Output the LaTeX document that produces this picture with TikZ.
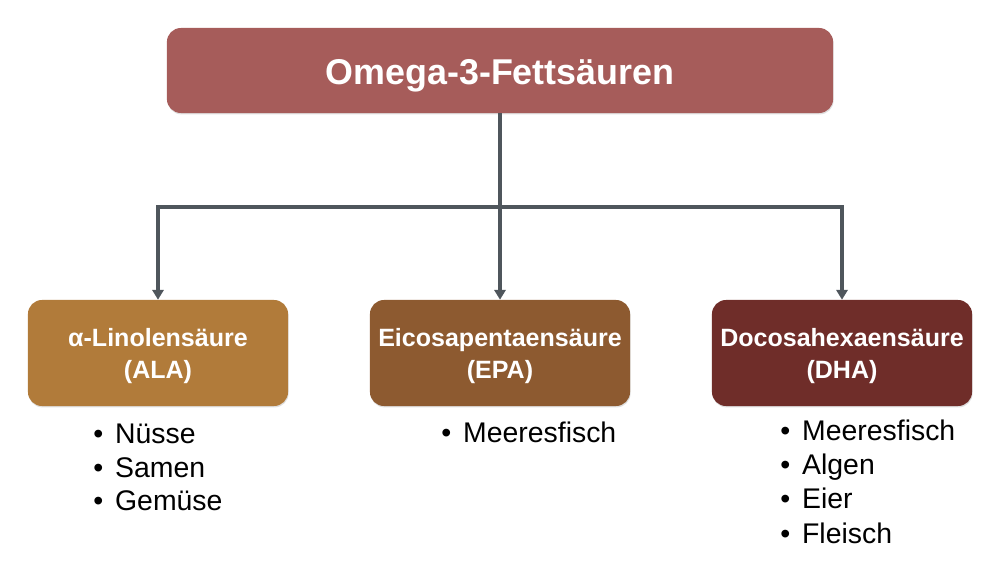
\documentclass[tikz,border=0pt]{standalone}
\usepackage{fontspec}
\setmainfont{Liberation Sans}
\usetikzlibrary{arrows.meta,shadows}
\definecolor{titlecol}{HTML}{A65C5A}
\definecolor{alacol}{HTML}{B17B3A}
\definecolor{epacol}{HTML}{8D5A30}
\definecolor{dhacol}{HTML}{6F2D29}
\definecolor{linecol}{HTML}{4F565C}
\newcommand{\bul}{•\hspace{0.42em}}
\tikzset{
  titlebox/.style={rounded corners=0.35cm, fill=titlecol, text=white, minimum width=16.65cm, minimum height=2.125cm,
     font=\bfseries\fontsize{25.5}{30}\selectfont, drop shadow={opacity=0.25, shadow xshift=0.4pt, shadow yshift=-1pt}},
  acidbox/.style={rounded corners=0.35cm, fill=#1, minimum width=6.5cm, minimum height=2.65cm, inner sep=0pt,
     drop shadow={opacity=0.25, shadow xshift=0.4pt, shadow yshift=-1pt}},
  boxtext/.style={text=white, inner sep=0pt, align=center, font=\bfseries\fontsize{17.8}{22.5}\selectfont},
  item/.style={anchor=base west, inner sep=0pt, font=\fontsize{20.2}{24}\selectfont, text=black},
  conn/.style={draw=linecol, line width=2.2pt},
  arr/.style={conn, -{Triangle[width=8pt,length=7pt]}},
}
\begin{document}
\begin{tikzpicture}[x=0.025cm, y=-0.025cm]
\useasboundingbox (0,0) rectangle (1000,563);
\node[titlebox, text depth=0pt] (top) at (500,70.5) {\raisebox{-2.5pt}{Omega-3-Fettsäuren}};
\node[acidbox=alacol] (ala) at (158,353) {};
\node[acidbox=epacol] (epa) at (500,353) {};
\node[acidbox=dhacol] (dha) at (842,353) {};
\node[boxtext] (alat) at (158,356) {α-Linolensäure\\(ALA)};
\node[boxtext] (epat) at (500,356) {Eicosapentaensäure\\(EPA)};
\node[boxtext] (dhat) at (842,356) {Docosahexaensäure\\(DHA)};
\coordinate (j) at (500,207);
\draw[arr] (top.south) -- (epa.north);
\draw[arr] (j) -| (ala.north);
\draw[arr] (j) -| (dha.north);
\node[item] (a1) at (93,444) {\bul Nüsse};
\node[item] (a2) at (93,477) {\bul Samen};
\node[item] (a3) at (93,510) {\bul Gemüse};
\node[item] (e1) at (441,443) {\bul Meeresfisch};
\node[item] (d1) at (780,441) {\bul Meeresfisch};
\node[item] (d2) at (780,475) {\bul Algen};
\node[item] (d3) at (780,508) {\bul Eier};
\node[item] (d4) at (780,543) {\bul Fleisch};
\end{tikzpicture}
\end{document}
